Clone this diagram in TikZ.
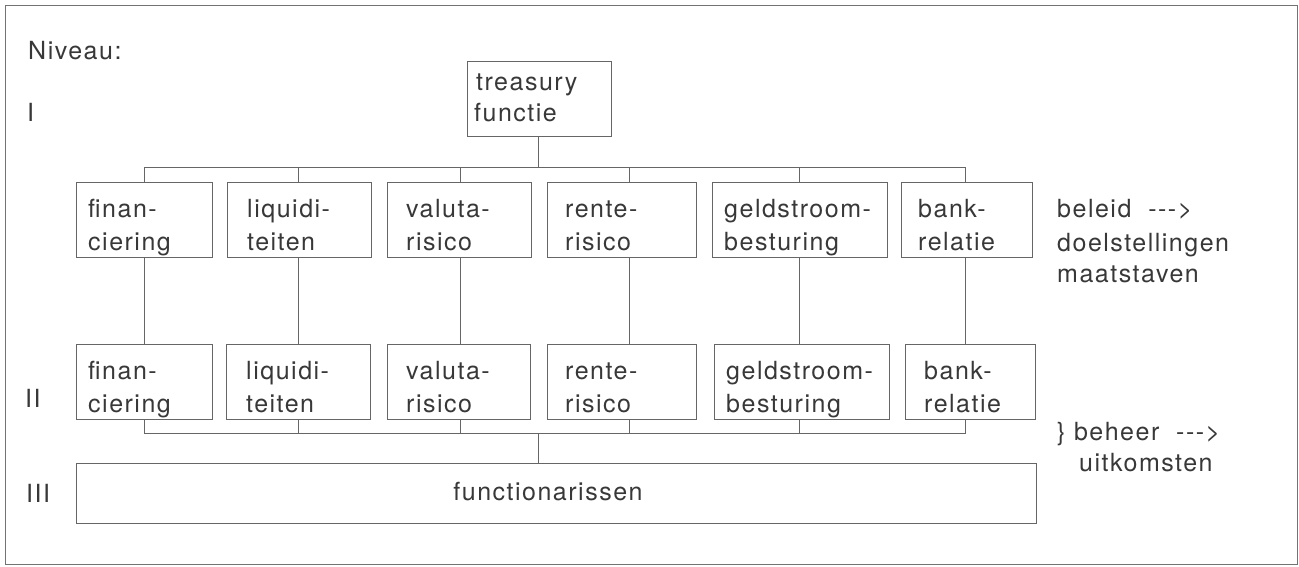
\documentclass[tikz,border=0pt]{standalone}
\usepackage{fontspec}
\setmainfont{TeX Gyre Heros}[LetterSpace=6]
\begin{document}
\begin{tikzpicture}[x=1pt,y=-1pt,
  box/.style={draw=black!60,line width=0.9pt,inner sep=0pt,outer sep=0pt},
  lbl/.style={anchor=base west,inner sep=0pt,text=black!78,font=\fontsize{25}{30}\selectfont},
  conn/.style={draw=black!60,line width=0.9pt}]
\newcommand\bx[5]{\node[box,minimum width={#4-#2},minimum height={#5-#3}] (#1) at ({(#2+#4)/2},{(#3+#5)/2}) {};}
\useasboundingbox (0,0) rectangle (1299,567);
\draw[black!55,line width=1pt] (5,6) rectangle (1297,564);
% level labels
\node[lbl] (niv) at (28,60) {Niveau:};
\node[lbl] (lI) at (27,122) {I};
\node[lbl] (lII) at (25,407) {II};
\node[lbl] (lIII) at (26,502) {III};
% treasury
\bx{T}{467}{61}{611}{136}
\node[lbl] (Ta) at (476,91) {treasury};
\node[lbl] (Tb) at (474,122) {functie};
% level I boxes
\bx{f1}{76}{182}{212}{257}
\bx{l1}{227}{182}{371}{257}
\bx{v1}{387}{182}{531}{257}
\bx{r1}{547}{182}{696}{257}
\bx{g1}{712}{182}{887}{257}
\bx{b1}{901}{182}{1032}{257}
% level II boxes
\bx{f2}{76}{344}{212}{419}
\bx{l2}{226}{344}{370}{419}
\bx{v2}{387}{344}{530}{419}
\bx{r2}{547}{344}{696}{419}
\bx{g2}{714}{344}{889}{419}
\bx{b2}{905}{344}{1035}{419}
% level III
\bx{F}{76}{463}{1036}{523}
\node[lbl,anchor=base] (Fa) at (548,500) {functionarissen};
% texts level I
\node[lbl] (f1a) at (88,217) {finan-};
\node[lbl] (f1b) at (88,250) {ciering};
\node[lbl] (l1a) at (247,217) {liquidi-};
\node[lbl] (l1b) at (247,250) {teiten};
\node[lbl] (v1a) at (406,217) {valuta-};
\node[lbl] (v1b) at (406,250) {risico};
\node[lbl] (r1a) at (565,217) {rente-};
\node[lbl] (r1b) at (565,250) {risico};
\node[lbl] (g1a) at (724,217) {geldstroom-};
\node[lbl] (g1b) at (724,250) {besturing};
\node[lbl] (b1a) at (918,217) {bank-};
\node[lbl] (b1b) at (918,250) {relatie};
% texts level II
\node[lbl] (f2a) at (88,379) {finan-};
\node[lbl] (f2b) at (88,412) {ciering};
\node[lbl] (l2a) at (246,379) {liquidi-};
\node[lbl] (l2b) at (246,412) {teiten};
\node[lbl] (v2a) at (406,379) {valuta-};
\node[lbl] (v2b) at (406,412) {risico};
\node[lbl] (r2a) at (565,379) {rente-};
\node[lbl] (r2b) at (565,412) {risico};
\node[lbl] (g2a) at (726,379) {geldstroom-};
\node[lbl] (g2b) at (726,412) {besturing};
\node[lbl] (b2a) at (924,379) {bank-};
\node[lbl] (b2b) at (924,412) {relatie};
% right texts
\node[lbl] (ra) at (1057,217) {beleid\ \ -{}-{}->};
\node[lbl] (rb) at (1057,251) {doelstellingen};
\node[lbl] (rc) at (1057,282) {maatstaven};
\node[lbl] (rd) at (1057,440) {\}\ beheer\ \ -{}-{}->};
\node[lbl] (re) at (1079,471) {uitkomsten};
% column positions of the connectors
\coordinate (cf) at (144,0);
\coordinate (cl) at (298,0);
\coordinate (cv) at (460,0);
\coordinate (cr) at (629,0);
\coordinate (cg) at (799,0);
\coordinate (cb) at (965,0);
\coordinate (ct) at (538,0);
\coordinate (barI) at (0,167);
\coordinate (barII) at (0,433);
% connectors
\draw[conn] (T.south -| ct) -- (barI -| ct);
\draw[conn] (f1.north -| cf) -- (barI -| cf) -- (barI -| cb) -- (b1.north -| cb);
\draw[conn] (l1.north -| cl) -- (barI -| cl);
\draw[conn] (v1.north -| cv) -- (barI -| cv);
\draw[conn] (r1.north -| cr) -- (barI -| cr);
\draw[conn] (g1.north -| cg) -- (barI -| cg);
\draw[conn] (f1.south -| cf) -- (f2.north -| cf);
\draw[conn] (l1.south -| cl) -- (l2.north -| cl);
\draw[conn] (v1.south -| cv) -- (v2.north -| cv);
\draw[conn] (r1.south -| cr) -- (r2.north -| cr);
\draw[conn] (g1.south -| cg) -- (g2.north -| cg);
\draw[conn] (b1.south -| cb) -- (b2.north -| cb);
\draw[conn] (f2.south -| cf) -- (barII -| cf) -- (barII -| cb) -- (b2.south -| cb);
\draw[conn] (l2.south -| cl) -- (barII -| cl);
\draw[conn] (v2.south -| cv) -- (barII -| cv);
\draw[conn] (r2.south -| cr) -- (barII -| cr);
\draw[conn] (g2.south -| cg) -- (barII -| cg);
\draw[conn] (F.north -| ct) -- (barII -| ct);
\end{tikzpicture}
\end{document}
